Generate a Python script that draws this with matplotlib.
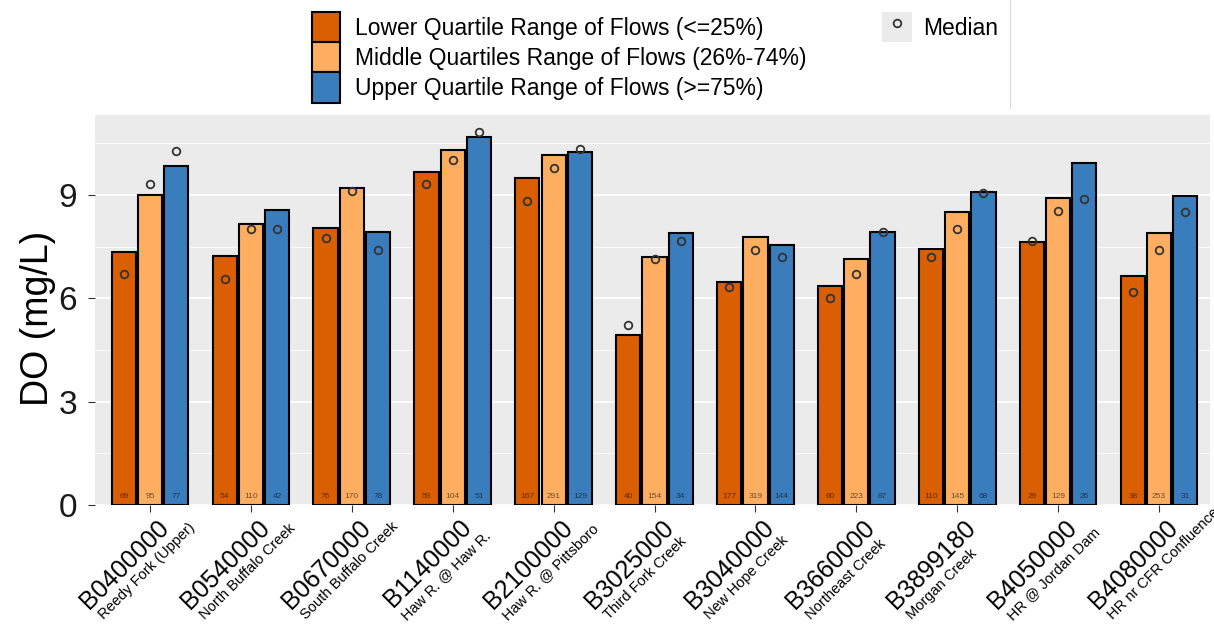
import numpy as np
import matplotlib
matplotlib.use('Agg')
import matplotlib.pyplot as plt
from matplotlib.patches import Patch
from matplotlib.lines import Line2D
from matplotlib.legend_handler import HandlerTuple
from matplotlib.textpath import TextPath
from matplotlib.font_manager import FontProperties

plt.rcParams['font.family'] = ['Liberation Sans', 'DejaVu Sans']

# station codes and names
codes = ['B0400000', 'B0540000', 'B0670000', 'B1140000', 'B2100000', 'B3025000',
         'B3040000', 'B3660000', 'B3899180', 'B4050000', 'B4080000']
names = ['Reedy Fork (Upper)', 'North Buffalo Creek', 'South Buffalo Creek',
         'Haw R. @ Haw R.', 'Haw R. @ Pittsboro', 'Third Fork Creek',
         'New Hope Creek', 'Northeast Creek', 'Morgan Creek',
         'HR @ Jordan Dam', 'HR nr CFR Confluence']

# bar heights (mean DO) per flow class
lower_mean = [7.34, 7.23, 8.03, 9.68, 9.48, 4.94, 6.47, 6.37, 7.44, 7.63, 6.65]
middle_mean = [9.01, 8.17, 9.21, 10.30, 10.17, 7.21, 7.79, 7.15, 8.50, 8.90, 7.90]
upper_mean = [9.85, 8.56, 7.93, 10.69, 10.26, 7.89, 7.56, 7.93, 9.08, 9.94, 8.97]

# medians (circles)
lower_med = [6.71, 6.55, 7.75, 9.32, 8.81, 5.22, 6.34, 6.00, 7.21, 7.67, 6.17]
middle_med = [9.32, 8.01, 9.10, 10.00, 9.79, 7.15, 7.39, 6.71, 8.01, 8.54, 7.39]
upper_med = [10.27, 8.01, 7.39, 10.82, 10.33, 7.66, 7.20, 7.91, 9.05, 8.89, 8.50]

# sample counts
lower_n = [69, 54, 76, 59, 167, 40, 177, 60, 110, 29, 38]
middle_n = [95, 110, 170, 104, 291, 154, 319, 223, 145, 129, 253]
upper_n = [77, 42, 78, 51, 129, 34, 144, 87, 68, 26, 31]

labels = ['Lower Quartile Range of Flows (<=25%)',
          'Middle Quartiles Range of Flows (26%-74%)',
          'Upper Quartile Range of Flows (>=75%)']
colors = ['#d95f02', '#fdae61', '#3a7dbd']

W, H, dpi = 1214, 628, 100
fig = plt.figure(figsize=(W / dpi, H / dpi), dpi=dpi)
ax = fig.add_axes([95 / W, 1 - 505 / H, (1210 - 95) / W, (505 - 115) / H])
ax.set_facecolor('#ebebeb')

x = np.arange(len(codes))
off = 0.26
bw = 0.24
series = [(lower_mean, lower_med, lower_n), (middle_mean, middle_med, middle_n),
          (upper_mean, upper_med, upper_n)]
for k, (means, meds, ns) in enumerate(series):
    xs = x + (k - 1) * off
    ax.bar(xs, means, width=bw, color=colors[k], edgecolor='black', linewidth=1.5, zorder=3)
    ax.plot(xs, meds, ls='none', marker='o', mfc='none', mec='#333333', ms=5.5, mew=1.3, zorder=4)
    for xi, n in zip(xs, ns):
        ax.text(xi, 0.25, str(n), ha='center', va='center', fontsize=6,
                color='black', alpha=0.55, zorder=5)

ax.set_xlim(-0.545, 10.505)
ax.set_ylim(0, 11.32)
ax.set_yticks([0, 3, 6, 9])
ax.set_yticks([1.5, 4.5, 7.5, 10.5], minor=True)
ax.grid(axis='y', which='major', color='white', lw=1.3, zorder=0)
ax.grid(axis='y', which='minor', color='white', lw=0.6, zorder=0)
ax.set_axisbelow(True)
for s in ax.spines.values():
    s.set_visible(False)
ax.tick_params(axis='y', which='major', labelsize=24, length=5, color='#333333',
               labelcolor='#1a1a1a', pad=8)
ax.tick_params(axis='y', which='minor', length=0)
ax.set_xticks(x)
ax.set_xticklabels([])
ax.tick_params(axis='x', length=5, color='#333333')

fig.text(38 / W, 1 - 318 / H, 'DO (mg/L)', rotation=90, ha='center', va='center', fontsize=27)

# rotated two-line station labels
code_fs, name_fs = 18, 10.5
code_w = TextPath((0, 0), codes[0], size=code_fs,
                  prop=FontProperties(family='Liberation Sans')).get_extents().width * dpi / 72
c = np.sqrt(0.5)
end = (15, -19)
gap = 21
name_start = (end[0] - code_w * c + gap * c, end[1] - code_w * c - gap * c)
for i in range(len(codes)):
    ax.annotate(codes[i], xy=(x[i], 0), xycoords=('data', 'axes fraction'),
                xytext=end, textcoords='offset pixels', rotation=45,
                rotation_mode='anchor', ha='right', va='center', fontsize=code_fs,
                annotation_clip=False)
    ax.annotate(names[i], xy=(x[i], 0), xycoords=('data', 'axes fraction'),
                xytext=name_start, textcoords='offset pixels', rotation=45,
                rotation_mode='anchor', ha='left', va='center', fontsize=name_fs,
                annotation_clip=False)

# legends
handles = [Patch(facecolor=col, edgecolor='black', linewidth=1.5) for col in colors]
fig.legend(handles, labels, loc='upper left', bbox_to_anchor=(312 / W, 1 - 12 / H),
           frameon=False, fontsize=16.5, handlelength=1.22, handleheight=1.65,
           handletextpad=0.65, labelspacing=0, borderpad=0, borderaxespad=0)
med_handle = (Patch(facecolor='#ebebeb', edgecolor='none'),
              Line2D([], [], ls='none', marker='o', mfc='none', mec='#333333', ms=5.5, mew=1.3))
fig.legend([med_handle], ['Median'], handler_map={tuple: HandlerTuple(ndivide=1, pad=0)},
           loc='upper left', bbox_to_anchor=(882 / W, 1 - 12 / H), frameon=False,
           fontsize=16.5, handlelength=1.31, handleheight=1.65, handletextpad=0.5,
           borderpad=0, borderaxespad=0)
fig.add_artist(Line2D([1010 / W, 1010 / W], [1 - 108 / H, 1], color='#d9d9d9', lw=0.8,
                      transform=fig.transFigure))

fig.savefig('out.png', dpi=dpi)
